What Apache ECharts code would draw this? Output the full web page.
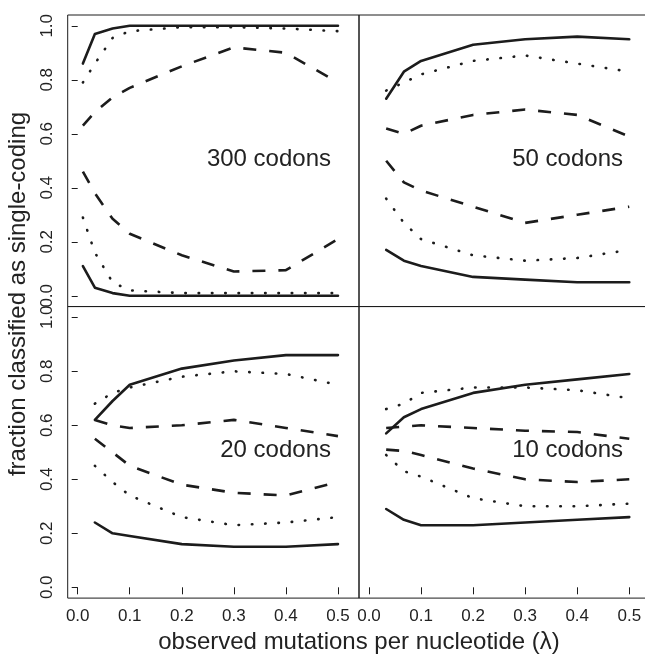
<!DOCTYPE html>
<html>
<head>
<meta charset="utf-8">
<script src="https://cdn.jsdelivr.net/npm/echarts@6/dist/echarts.min.js"></script>
<style>
html,body{margin:0;padding:0;background:#fff}
#canvas{width:645px;height:654px}
</style>
</head>
<body>
<div id="canvas"></div>
<script>
// x positions (lambda)
var x300 = [0.01, 0.033, 0.067, 0.1, 0.2, 0.3, 0.4, 0.5];
var xSmall = [0.033, 0.067, 0.1, 0.2, 0.3, 0.4, 0.5];
var yTicks = [0, 0.2, 0.4, 0.6, 0.8, 1.0];
var xTicks = [0, 0.1, 0.2, 0.3, 0.4, 0.5];
var panelNames = ["300 codons", "50 codons", "20 codons", "10 codons"];

// 300 codons
var c300SolidHi = [0.86, 0.97, 0.99, 1, 1, 1, 1, 1];
var c300DotHi   = [0.79, 0.86, 0.955, 0.98, 0.995, 0.995, 0.99, 0.98];
var c300DashHi  = [0.63, 0.68, 0.735, 0.77, 0.85, 0.92, 0.90, 0.79];
var c300DashLo  = [0.46, 0.38, 0.285, 0.23, 0.15, 0.09, 0.095, 0.21];
var c300DotLo   = [0.29, 0.16, 0.05, 0.02, 0.01, 0.01, 0.01, 0.01];
var c300SolidLo = [0.11, 0.03, 0.01, 0, 0, 0, 0, 0];
// 50 codons
var c50SolidHi = [0.73, 0.83, 0.87, 0.93, 0.95, 0.96, 0.95];
var c50DotHi   = [0.76, 0.79, 0.82, 0.87, 0.89, 0.86, 0.83];
var c50DashHi  = [0.62, 0.60, 0.63, 0.67, 0.69, 0.67, 0.59];
var c50DashLo  = [0.50, 0.42, 0.39, 0.33, 0.27, 0.30, 0.33];
var c50DotLo   = [0.36, 0.27, 0.21, 0.15, 0.13, 0.14, 0.17];
var c50SolidLo = [0.17, 0.13, 0.11, 0.07, 0.06, 0.05, 0.05];
// 20 codons
var c20SolidHi = [0.62, 0.69, 0.75, 0.81, 0.84, 0.86, 0.86];
var c20DotHi   = [0.68, 0.72, 0.74, 0.78, 0.80, 0.79, 0.75];
var c20DashHi  = [0.62, 0.60, 0.59, 0.60, 0.62, 0.59, 0.56];
var c20DashLo  = [0.55, 0.50, 0.45, 0.38, 0.35, 0.34, 0.39];
var c20DotLo   = [0.45, 0.39, 0.34, 0.26, 0.23, 0.24, 0.26];
var c20SolidLo = [0.24, 0.20, 0.19, 0.16, 0.15, 0.15, 0.16];
// 10 codons
var c10SolidHi = [0.57, 0.63, 0.66, 0.72, 0.75, 0.77, 0.79];
var c10DotHi   = [0.66, 0.68, 0.72, 0.74, 0.74, 0.73, 0.70];
var c10DashHi  = [0.59, 0.595, 0.60, 0.59, 0.58, 0.575, 0.55];
var c10DashLo  = [0.51, 0.505, 0.49, 0.44, 0.40, 0.39, 0.40];
var c10DotLo   = [0.49, 0.43, 0.41, 0.33, 0.30, 0.30, 0.31];
var c10SolidLo = [0.29, 0.25, 0.23, 0.23, 0.24, 0.25, 0.26];

var panels = [
    {x: x300, lines: [c300SolidHi, c300DotHi, c300DashHi, c300DashLo, c300DotLo, c300SolidLo]},
    {x: xSmall, lines: [c50SolidHi, c50DotHi, c50DashHi, c50DashLo, c50DotLo, c50SolidLo]},
    {x: xSmall, lines: [c20SolidHi, c20DotHi, c20DashHi, c20DashLo, c20DotLo, c20SolidLo]},
    {x: xSmall, lines: [c10SolidHi, c10DotHi, c10DashHi, c10DashLo, c10DotLo, c10SolidLo]}
];
var styles = ["solid", "dot", "dash", "dash", "dot", "solid"];

var FONT = "Liberation Sans, Arial, Helvetica, sans-serif";
var INK = "#1c1c1c";

function lineStyleFor(s){
    if(s == "dot") return {color: INK, width: 2.6, type: [0.5, 12.8], cap: "round"};
    if(s == "dash") return {color: INK, width: 2.6, type: [13, 13], cap: "butt"};
    return {color: INK, width: 2.6, type: "solid", cap: "round", join: "round"};
}

var myChart = echarts.init(document.getElementById("canvas"));

var grids = [], xAxes = [], yAxes = [], series = [], graphics = [];
var lefts = [67.7, 359], tops = [15, 306.5];
for(var i=0;i<4;i++){
    var col = i % 2, row = Math.floor(i / 2);
    grids.push({
        left: lefts[col], top: tops[row], width: 291.3, height: 291.6,
        outerBoundsMode: "none", containLabel: false,
        show: true, borderColor: INK, borderWidth: 1, backgroundColor: "transparent"
    });
    xAxes.push({
        type: "value", gridIndex: i, min: -0.0192, max: 0.5404,
        splitLine: {show: false}, axisLine: {show: false},
        axisTick: {show: row == 1, length: 7, inside: false, customValues: xTicks,
            lineStyle: {color: INK, width: 1}},
        axisLabel: {show: row == 1, customValues: xTicks, margin: 10,
            fontFamily: FONT, fontSize: 17, color: "#222",
            formatter: function(v){ return v.toFixed(1); }}
    });
    yAxes.push({
        type: "value", gridIndex: i, min: -0.04, max: 1.04,
        splitLine: {show: false}, axisLine: {show: false},
        axisTick: {show: col == 0, length: 6, customValues: yTicks,
            lineStyle: {color: INK, width: 1}},
        axisLabel: {show: col == 0, customValues: yTicks, rotate: 90, margin: 12,
            fontFamily: FONT, fontSize: 17, color: "#222",
            formatter: function(v){ return v.toFixed(1); }}
    });
    var p = panels[i];
    for(var k=0;k<p.lines.length;k++){
        var pts = [];
        for(var j=0;j<p.x.length;j++){
            pts.push([p.x[j], p.lines[k][j]]);
        }
        series.push({
            type: "line", xAxisIndex: i, yAxisIndex: i, data: pts,
            showSymbol: false, silent: true, animation: false, clip: true,
            lineStyle: lineStyleFor(styles[k])
        });
    }
}

// panel labels
var labelPos = [[331, 159], [623, 159], [331, 450], [623, 450]];
for(var i=0;i<4;i++){
    graphics.push({
        type: "text", x: labelPos[i][0], y: labelPos[i][1],
        style: {text: panelNames[i], font: "24px " + FONT, fill: "#222",
            textAlign: "right", textVerticalAlign: "middle"}
    });
}
graphics.push({
    type: "text", x: 359, y: 642,
    style: {text: "observed mutations per nucleotide (\u03bb)", font: "24px " + FONT, fill: "#222",
        textAlign: "center", textVerticalAlign: "middle"}
});
graphics.push({
    type: "text", x: 18, y: 294, rotation: Math.PI / 2,
    style: {text: "fraction classified as single-coding", font: "24px " + FONT, fill: "#222",
        textAlign: "center", textVerticalAlign: "middle"}
});

myChart.setOption({
    animation: false,
    backgroundColor: "#fff",
    grid: grids,
    xAxis: xAxes,
    yAxis: yAxes,
    series: series,
    graphic: graphics
});
</script>
</body>
</html>
